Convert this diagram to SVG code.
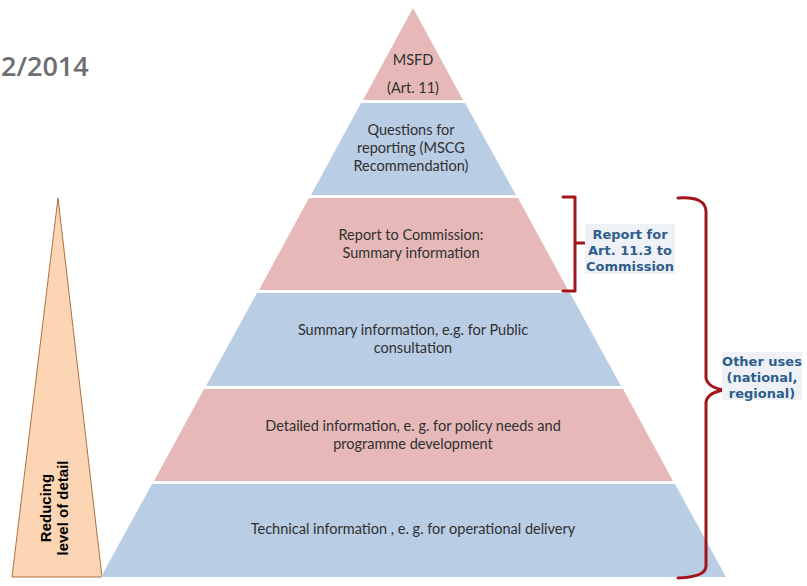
<svg xmlns="http://www.w3.org/2000/svg" width="807" height="586" viewBox="0 0 807 586">
<style>
.pink{fill:#e6b9b8}
.blue{fill:#b9cde5}
.t{font-family:Lato,"Liberation Sans",sans-serif;font-size:14.5px;fill:#303030;text-anchor:middle}
.lbl{font-family:"DejaVu Sans",Verdana,sans-serif;font-size:13px;font-weight:bold;fill:#2f5d8c;text-anchor:middle}
.br{fill:none;stroke:#a3151d;stroke-width:3;stroke-linejoin:round;stroke-linecap:round}
.rv{font-family:"Liberation Sans",sans-serif;font-size:15px;font-weight:bold;fill:#000;text-anchor:middle}
</style>
<rect width="807" height="586" fill="#ffffff"/>
<text x="1" y="76" font-family="'Open Sans','Liberation Sans',sans-serif" font-size="27" font-weight="600" fill="#6d6e71">2/2014</text>

<g id="detail-arrow">
<polygon points="58,198 102,577 12,577" fill="#fcd5b5" stroke="#b0703f" stroke-width="1"/>
<text class="rv" transform="translate(51,508) rotate(-90)">Reducing</text>
<text class="rv" transform="translate(68,508) rotate(-90)">level of detail</text>
</g>

<g id="layer-msfd">
<polygon class="pink" points="413,8 463,100 363,100"/>
<text class="t" x="413" y="65">MSFD</text>
<text class="t" x="413" y="93">(Art. 11)</text>
</g>
<g id="layer-questions">
<polygon class="blue" points="361,103 465,103 516,195 311,195"/>
<text class="t" x="411" y="135">Questions for</text>
<text class="t" x="411" y="153">reporting (MSCG</text>
<text class="t" x="411" y="171">Recommendation)</text>
</g>
<g id="layer-report">
<polygon class="pink" points="309,198 518,198 568,290 259,290"/>
<text class="t" x="411" y="240">Report to Commission:</text>
<text class="t" x="411" y="258">Summary information</text>
</g>
<g id="layer-summary">
<polygon class="blue" points="257,293 570,293 621,386 206,386"/>
<text class="t" x="413" y="335">Summary information, e.g. for Public</text>
<text class="t" x="413" y="353">consultation</text>
</g>
<g id="layer-detailed">
<polygon class="pink" points="204,389 623,389 673,481 154,481"/>
<text class="t" x="413" y="431">Detailed information, e. g. for policy needs and</text>
<text class="t" x="413" y="449">programme development</text>
</g>
<g id="layer-technical">
<polygon class="blue" points="152,484 675,484 726,577 101,577"/>
<text class="t" x="413" y="534">Technical information , e. g. for operational delivery</text>
</g>

<g id="connectors">
<path class="br" d="M563,197 H575 V291 H563 M575,243 H584"/>
<path class="br" d="M678,198 Q706,196 706,212 V378 Q708,388 725,390 Q708,392 706,402 V566 Q706,577 678,578"/>
</g>

<g id="label-report">
<rect x="585" y="224" width="90" height="50" fill="#eef2f7"/>
<text class="lbl" x="630" y="239">Report for</text>
<text class="lbl" x="630" y="255">Art. 11.3 to</text>
<text class="lbl" x="630" y="271">Commission</text>
</g>
<g id="label-other">
<rect x="722" y="352" width="80" height="48" fill="#eef2f7"/>
<text class="lbl" x="762" y="366">Other uses</text>
<text class="lbl" x="762" y="382">(national,</text>
<text class="lbl" x="762" y="398">regional)</text>
</g>
</svg>
